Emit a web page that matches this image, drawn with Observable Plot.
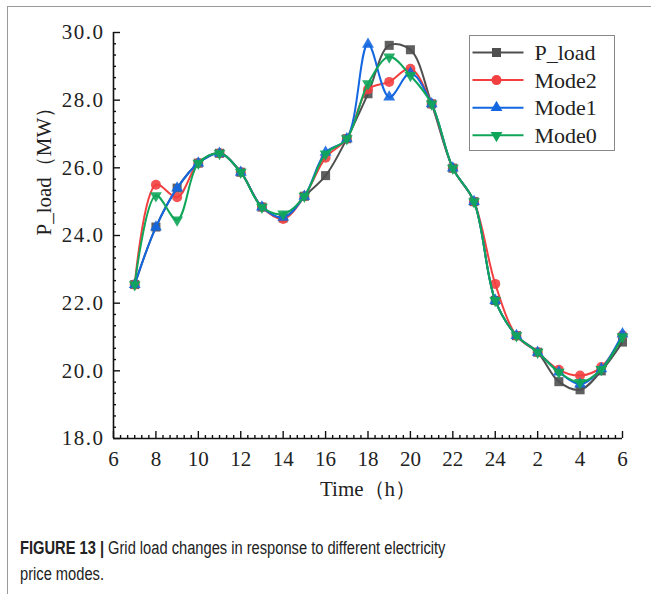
<!DOCTYPE html>
<html>
<head>
<meta charset="utf-8">
<script src="https://cdn.jsdelivr.net/npm/d3@7"></script>
<script src="https://cdn.jsdelivr.net/npm/@observablehq/plot@0.6"></script>
<style>
  body { margin: 0; background: #fff; }
  #fig { position: relative; width: 651px; height: 594px; overflow: hidden; background: #fff; }
  #border { position: absolute; left: 7px; top: 6px; width: 800px; height: 800px;
            border-left: 1px solid #999; border-top: 1px solid #999; }
  #chart { position: absolute; left: 0; top: 0; }
  #caption { position: absolute; left: 20px; top: 535px; color: #222; white-space: nowrap;
             font-family: "Liberation Sans", Arial, sans-serif;
             font-size: 18px; line-height: 26px;
             transform: scaleX(0.815); transform-origin: 0 0; }
  #caption b { font-weight: bold; }
  #chart svg text { font-family: "Liberation Serif", "DejaVu Serif", serif; }
</style>
</head>
<body>
<div id="fig">
  <div id="border"></div>
  <div id="chart"></div>
  <div id="caption"><b>FIGURE 13 |</b> Grid load changes in response to different electricity<br>price modes.</div>
</div>
<script>
// Hour of day, 7:00 through 6:00 of the next morning (25..30 = 1..6 h)
const hours = [7, 8, 9, 10, 11, 12, 13, 14, 15, 16, 17, 18, 19, 20, 21, 22, 23, 24, 25, 26, 27, 28, 29, 30];

// Grid load (MW) for each case
const pLoad = [22.55, 24.25, 25.40, 26.14, 26.43, 25.87, 24.84, 24.52, 25.16, 25.77, 26.86, 28.19,
               29.62, 29.49, 27.89, 25.99, 25.00, 22.08, 21.04, 20.55, 19.68, 19.44, 20.00, 20.85];
const mode2 = [22.55, 25.50, 25.13, 26.14, 26.43, 25.87, 24.84, 24.49, 25.16, 26.30, 26.86, 28.32,
               28.54, 28.93, 27.89, 25.99, 25.00, 22.57, 21.04, 20.55, 20.03, 19.86, 20.11, 21.05];
const mode1 = [22.55, 24.25, 25.40, 26.14, 26.43, 25.87, 24.84, 24.54, 25.16, 26.46, 26.86, 29.65,
               28.09, 28.80, 27.89, 25.99, 25.00, 22.08, 21.04, 20.55, 19.96, 19.61, 20.06, 21.09];
const mode0 = [22.55, 25.18, 24.46, 26.14, 26.43, 25.87, 24.84, 24.64, 25.16, 26.41, 26.86, 28.49,
               29.28, 28.73, 27.89, 25.99, 25.00, 22.08, 21.04, 20.55, 19.96, 19.66, 20.04, 21.01];

const seriesNames = ["P_load", "Mode2", "Mode1", "Mode0"];
const seriesValues = [pLoad, mode2, mode1, mode0];
const seriesColors = ["#4f4f4f", "#f24040", "#1367e0", "#10a65a"];
const seriesSymbols = ["square", "circle", "triangle", "triangle"];
const symbolRotate = [0, 0, 0, 180];
const symbolRadius = [5.1, 5.0, 4.4, 4.4];

// Axis ticks
const xTicks = [6, 8, 10, 12, 14, 16, 18, 20, 22, 24, 26, 28, 30];
const xTickLabels = ["6", "8", "10", "12", "14", "16", "18", "20", "22", "24", "2", "4", "6"];
const yTicks = [18, 20, 22, 24, 26, 28, 30];
const xMinor = d3.range(0, 73).filter(i => i % 6 !== 0).map(i => 6 + i / 3);
const yMinor = d3.range(0, 37).filter(i => i % 6 !== 0).map(i => 18 + i / 3);

const W = 651, H = 510;
const mL = 113, mR = 29, mT = 32, mB = 72;
const innerW = W - mL - mR, innerH = H - mT - mB;
const serif = "'Liberation Serif', 'DejaVu Serif', serif";

const rows = seriesNames.map((name, s) =>
  hours.map((h, i) => ({series: name, hour: h, load: seriesValues[s][i]})));

const seriesMarks = rows.flatMap((data, s) => [
  Plot.line(data, {x: "hour", y: "load", curve: "catmull-rom",
                   stroke: seriesColors[s], strokeWidth: 2}),
  Plot.dot(data, {x: "hour", y: "load", symbol: seriesSymbols[s], r: symbolRadius[s],
                  rotate: symbolRotate[s], fill: seriesColors[s], stroke: "none",
                  fillOpacity: 0.9})
]);

const tickStyle = {stroke: "#111", strokeWidth: 1.4};

const chart = Plot.plot({
  width: W, height: H,
  marginLeft: mL, marginRight: mR, marginTop: mT, marginBottom: mB,
  style: {fontFamily: serif, fontSize: "21px", color: "#222", background: "transparent"},
  x: {domain: [6, 30]},
  y: {domain: [18, 30]},
  marks: [
    // inward minor and major ticks
    Plot.tickX(xMinor, {x: d => d, insetTop: innerH - 3, ...tickStyle}),
    Plot.tickX(xTicks, {x: d => d, insetTop: innerH - 7, ...tickStyle}),
    Plot.tickY(yMinor, {y: d => d, insetRight: innerW - 3, ...tickStyle}),
    Plot.tickY(yTicks, {y: d => d, insetRight: innerW - 7, ...tickStyle}),
    Plot.ruleX([6], {stroke: "#111", strokeWidth: 1.6}),
    Plot.ruleY([18], {stroke: "#111", strokeWidth: 1.6}),
    Plot.axisX(xTicks, {tickSize: 0, tickPadding: 13, label: null, fontFamily: serif,
                        fontSize: 21, fontVariant: "normal",
                        tickFormat: d => xTickLabels[xTicks.indexOf(d)]}),
    Plot.axisY(yTicks, {tickSize: 0, tickPadding: 9, label: null, fontFamily: serif,
                        fontSize: 21, fontVariant: "normal", tickFormat: d3.format(".1f")}),
    Plot.text(["Time（h）"], {frameAnchor: "bottom", dy: 57, fontSize: 21, fontFamily: serif}),
    Plot.text(["P_load（MW）"], {frameAnchor: "left", dx: -69, rotate: -90, fontSize: 21, fontFamily: serif}),
    ...seriesMarks
  ]
});

document.getElementById("chart").appendChild(chart);

// Spread the y tick labels a little, as in a wide-digit font
d3.select(chart).selectAll("[aria-label='y-axis tick label'] text").attr("letter-spacing", "1.5px");

// Legend box in the upper right of the plotting area
const svg = d3.select(chart);
const lg = svg.append("g").attr("transform", "translate(469.5,35.5)");
lg.append("rect").attr("width", 145).attr("height", 115)
  .attr("fill", "#fff").attr("stroke", "#888").attr("stroke-width", 1);
seriesNames.forEach((name, s) => {
  const y = 17 + s * 27.6;
  lg.append("line").attr("x1", 3).attr("x2", 54).attr("y1", y).attr("y2", y)
    .attr("stroke", seriesColors[s]).attr("stroke-width", 2);
  const typ = {square: d3.symbolSquare, circle: d3.symbolCircle, triangle: d3.symbolTriangle}[seriesSymbols[s]];
  lg.append("path")
    .attr("d", d3.symbol(typ, symbolRadius[s] * symbolRadius[s] * Math.PI)())
    .attr("transform", `translate(27,${y}) rotate(${symbolRotate[s]})`)
    .attr("fill", seriesColors[s]);
  lg.append("text").attr("x", 65).attr("y", y).attr("dy", "0.35em")
    .attr("text-anchor", "start").attr("font-size", 22).attr("fill", "#222").text(name);
});
</script>
</body>
</html>
